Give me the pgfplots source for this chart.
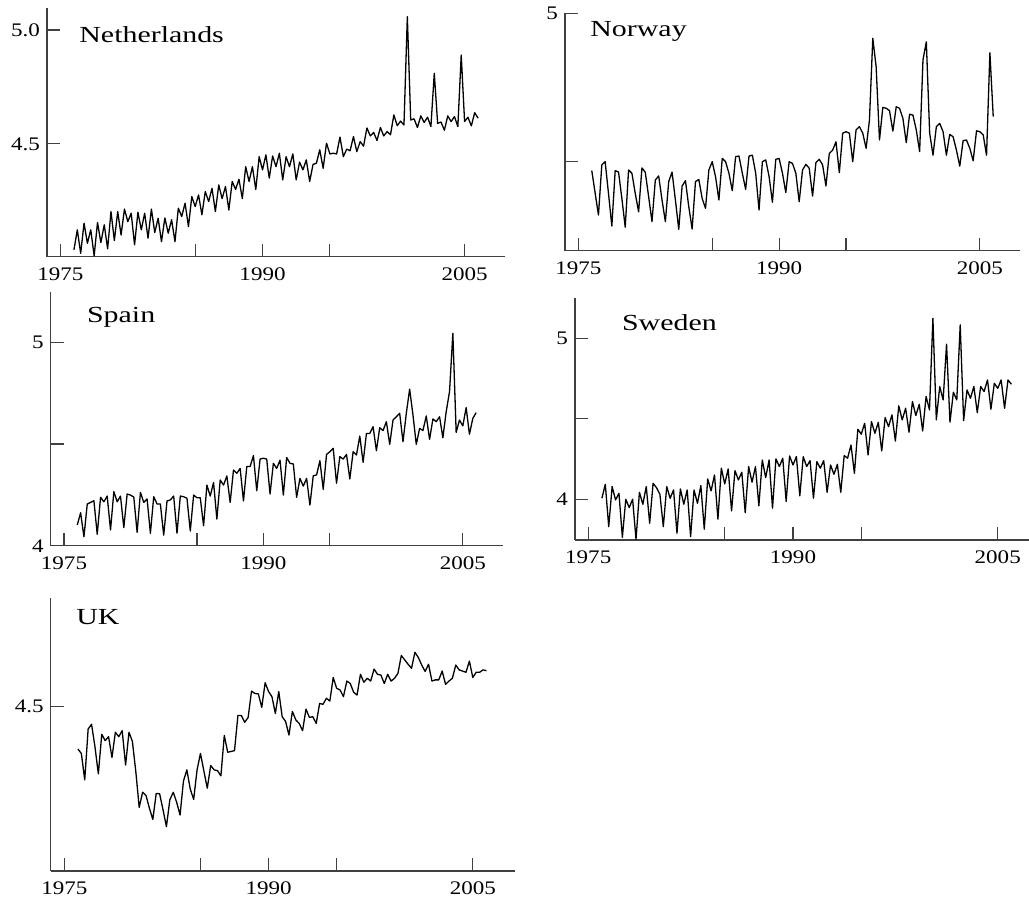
\documentclass[border=0pt]{standalone}
\usepackage{fontspec}
\setmainfont{Liberation Serif}[FakeStretch=1.2]
\newfontfamily\titlefont{Liberation Serif}[FakeStretch=1.3]
\usepackage{pgfplots}
\usepackage{pgfplotstable}
\pgfplotsset{compat=1.18}

\pgfplotstableread{
t NL NO ES SE UK
1976.00 4.035 4.470 4.102 4.006 4.394
1976.25 4.123 4.395 4.162 4.093 4.383
1976.50 4.020 4.320 4.044 3.830 4.317
1976.75 4.152 4.489 4.205 4.079 4.444
1977.00 4.064 4.500 4.213 3.996 4.456
1977.25 4.123 4.393 4.221 4.037 4.400
1977.50 4.009 4.283 4.056 3.764 4.332
1977.75 4.155 4.470 4.238 4.000 4.431
1978.00 4.067 4.465 4.216 3.948 4.415
1978.25 4.145 4.376 4.244 4.000 4.425
1978.50 4.040 4.279 4.077 3.752 4.373
1978.75 4.203 4.472 4.266 4.043 4.436
1979.00 4.076 4.461 4.216 3.969 4.425
1979.25 4.203 4.393 4.244 4.079 4.440
1979.50 4.100 4.331 4.089 3.851 4.354
1979.75 4.214 4.479 4.254 4.099 4.436
1980.00 4.159 4.464 4.249 4.072 4.413
1980.25 4.196 4.382 4.239 4.031 4.338
1980.50 4.057 4.298 4.066 3.830 4.248
1980.75 4.200 4.438 4.262 4.079 4.286
1981.00 4.123 4.452 4.213 4.006 4.278
1981.25 4.196 4.371 4.230 4.058 4.246
1981.50 4.086 4.298 4.061 3.789 4.218
1981.75 4.214 4.433 4.241 4.064 4.283
1982.00 4.111 4.465 4.205 3.969 4.282
1982.25 4.174 4.371 4.205 4.058 4.242
1982.50 4.071 4.272 4.052 3.768 4.200
1982.75 4.175 4.418 4.220 4.058 4.267
1983.00 4.108 4.436 4.225 3.975 4.286
1983.25 4.167 4.348 4.244 4.085 4.261
1983.50 4.071 4.273 4.061 3.814 4.229
1983.75 4.218 4.433 4.244 4.126 4.314
1984.00 4.181 4.440 4.241 4.052 4.342
1984.25 4.240 4.376 4.233 4.151 4.294
1984.50 4.137 4.343 4.072 3.876 4.268
1984.75 4.269 4.472 4.249 4.193 4.342
1985.00 4.225 4.500 4.236 4.095 4.383
1985.25 4.276 4.449 4.236 4.188 4.339
1985.50 4.189 4.371 4.098 3.928 4.296
1985.75 4.291 4.511 4.298 4.178 4.353
1986.00 4.247 4.500 4.244 4.120 4.342
1986.25 4.305 4.461 4.311 4.168 4.340
1986.50 4.203 4.402 4.131 3.917 4.327
1986.75 4.320 4.517 4.323 4.203 4.428
1987.00 4.260 4.519 4.298 4.106 4.386
1987.25 4.313 4.461 4.343 4.203 4.388
1987.50 4.210 4.407 4.213 3.959 4.390
1987.75 4.335 4.519 4.372 4.244 4.478
1988.00 4.300 4.522 4.356 4.135 4.478
1988.25 4.345 4.461 4.380 4.244 4.461
1988.50 4.260 4.337 4.220 3.944 4.473
1988.75 4.400 4.500 4.389 4.251 4.539
1989.00 4.335 4.506 4.389 4.203 4.533
1989.25 4.400 4.450 4.443 4.255 4.532
1989.50 4.300 4.363 4.270 3.986 4.498
1989.75 4.444 4.508 4.426 4.269 4.560
1990.00 4.386 4.511 4.430 4.213 4.538
1990.25 4.452 4.461 4.426 4.265 4.525
1990.50 4.350 4.396 4.254 4.021 4.483
1990.75 4.447 4.500 4.405 4.265 4.538
1991.00 4.400 4.494 4.380 4.203 4.475
1991.25 4.459 4.461 4.421 4.240 4.463
1991.50 4.342 4.365 4.249 4.006 4.429
1991.75 4.444 4.472 4.434 4.234 4.488
1992.00 4.400 4.491 4.405 4.193 4.467
1992.25 4.456 4.478 4.402 4.240 4.458
1992.50 4.342 4.384 4.238 4.043 4.440
1992.75 4.420 4.497 4.331 4.213 4.494
1993.00 4.386 4.508 4.293 4.155 4.473
1993.25 4.430 4.489 4.331 4.217 4.475
1993.50 4.335 4.418 4.200 4.043 4.458
1993.75 4.410 4.528 4.344 4.271 4.508
1994.00 4.415 4.539 4.348 4.255 4.506
1994.25 4.474 4.567 4.418 4.337 4.521
1994.50 4.393 4.463 4.277 4.161 4.514
1994.75 4.503 4.596 4.449 4.435 4.573
1995.00 4.456 4.601 4.462 4.404 4.546
1995.25 4.459 4.596 4.479 4.472 4.542
1995.50 4.456 4.500 4.307 4.275 4.525
1995.75 4.530 4.607 4.438 4.482 4.564
1996.00 4.444 4.618 4.426 4.410 4.558
1996.25 4.477 4.596 4.449 4.478 4.536
1996.50 4.470 4.545 4.328 4.300 4.529
1996.75 4.532 4.640 4.462 4.507 4.581
1997.00 4.466 4.916 4.446 4.451 4.561
1997.25 4.510 4.820 4.539 4.524 4.571
1997.50 4.490 4.573 4.410 4.362 4.564
1997.75 4.570 4.683 4.552 4.580 4.594
1998.00 4.535 4.680 4.552 4.493 4.581
1998.25 4.550 4.672 4.585 4.565 4.579
1998.50 4.515 4.603 4.467 4.416 4.558
1998.75 4.572 4.685 4.580 4.607 4.581
1999.00 4.535 4.680 4.566 4.520 4.564
1999.25 4.554 4.646 4.610 4.590 4.571
1999.50 4.540 4.564 4.498 4.424 4.583
1999.75 4.627 4.660 4.618 4.638 4.628
2000.00 4.580 4.657 4.634 4.555 4.617
2000.25 4.600 4.607 4.651 5.124 4.606
2000.50 4.583 4.534 4.511 4.493 4.596
2000.75 5.058 4.843 4.651 4.700 4.636
2001.00 4.605 4.904 4.770 4.617 4.623
2001.25 4.610 4.596 4.643 4.963 4.604
2001.50 4.572 4.522 4.498 4.478 4.588
2001.75 4.623 4.618 4.577 4.665 4.606
2002.00 4.594 4.629 4.566 4.617 4.564
2002.25 4.617 4.601 4.638 5.083 4.567
2002.50 4.576 4.522 4.523 4.489 4.567
2002.75 4.810 4.592 4.623 4.679 4.589
2003.00 4.590 4.584 4.610 4.627 4.556
2003.25 4.596 4.539 4.634 4.700 4.564
2003.50 4.560 4.485 4.531 4.538 4.571
2003.75 4.623 4.571 4.659 4.700 4.604
2004.00 4.598 4.573 4.757 4.669 4.592
2004.25 4.620 4.545 5.044 4.741 4.589
2004.50 4.576 4.503 4.557 4.559 4.586
2004.75 4.890 4.604 4.618 4.720 4.614
2005.00 4.598 4.601 4.589 4.689 4.573
2005.25 4.617 4.590 4.679 4.741 4.586
2005.50 4.579 4.522 4.548 4.565 4.586
2005.75 4.637 4.867 4.626 4.741 4.592
2006.00 4.613 4.652 4.654 4.714 4.590
}\data

\pgfplotsset{
  panel/.style={
    scale only axis,
    axis lines=left,
    axis line style={-, black!75, line width=0.6pt},
    xmin=1974, xmax=2008,
    xtick={1975,1985,1990,1995,2005},
    xticklabels={1975,,1990,,2005},
    tick align=inside,
    major tick length=6.5pt,
    tick style={black!75, line width=0.6pt},
    ticklabel style={font=\fontsize{9.6}{10}\selectfont},
    xticklabel style={yshift=-1.8pt},
    /pgf/number format/assume math mode=true,
    anchor=south west,
  },
  series/.style={black, line width=0.65pt, line join=round, no marks},
}
\tikzset{ttl/.style={anchor=base west, inner sep=0pt, font=\titlefont\fontsize{11.5}{12}\selectfont}}

\begin{document}
\begin{tikzpicture}
% Netherlands
\begin{axis}[panel, at={(23.5pt,319.65pt)}, width=229pt, height=124.2pt,
  ymin=4.005, ymax=5.095, ytick={4.5,5.0}, yticklabels={4.5,5.0}]
\addplot[series] table[x=t, y=NL] {\data};
\end{axis}
% Norway
\begin{axis}[panel, at={(282.5pt,322.65pt)}, width=227.5pt, height=118.7pt,
  ymin=4.2, ymax=5.0, ytick={4.5,5.0}, yticklabels={,5}]
\addplot[series] table[x=t, y=NO] {\data};
\end{axis}
% Spain
\begin{axis}[panel, at={(25.35pt,175.15pt)}, width=226pt, height=126.7pt,
  ymin=4.0, ymax=5.246, ytick={4,4.5,5}, yticklabels={4,,5}]
\addplot[series] table[x=t, y=ES] {\data};
\end{axis}
% Sweden
\begin{axis}[panel, at={(287.5pt,178pt)}, width=227pt, height=120.85pt,
  xmin=1974.03, xmax=2007.29,
  ymin=3.747, ymax=5.248, ytick={4,4.5,5}, yticklabels={4,,5}]
\addplot[series] table[x=t, y=SE] {\data};
\end{axis}
% UK
\begin{axis}[panel, at={(25.35pt,12.5pt)}, width=232.15pt, height=136.35pt,
  xmax=2008.1,
  ymin=4.089, ymax=4.771, ytick={4.5}, yticklabels={4.5}]
\addplot[series] table[x=t, y=UK] {\data};
\end{axis}

\node[ttl] at (39.5pt,426.65pt) {Netherlands};
\node[ttl] at (295pt,429.65pt) {Norway};
\node[ttl] at (43.35pt,286.85pt) {Spain};
\node[ttl] at (310.85pt,282.65pt) {Sweden};
\node[ttl] at (38pt,135.85pt) {UK};

\pgfresetboundingbox
\useasboundingbox (0,0) rectangle (514.5pt,448pt);
\end{tikzpicture}
\end{document}
